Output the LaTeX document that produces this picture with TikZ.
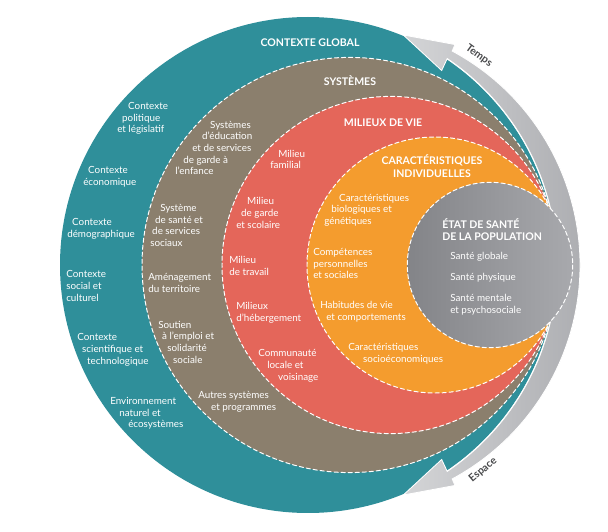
\documentclass[tikz,border=0pt]{standalone}
\usepackage{fontspec}
\setmainfont{Lato}
\usepackage{tikz}
\usetikzlibrary{calc}
\definecolor{ringteal}{HTML}{2F8F9A}
\definecolor{ringbrown}{HTML}{8B7F6D}
\definecolor{ringred}{HTML}{E4665A}
\definecolor{ringorange}{HTML}{F49C2E}
\definecolor{popdark}{HTML}{838488}
\definecolor{poplight}{HTML}{A8A9AD}
\definecolor{bandlight}{HTML}{D4D5D7}
\definecolor{banddark}{HTML}{A6A7AB}
\definecolor{arrowtext}{HTML}{48494B}

\begin{document}
\begin{tikzpicture}[x=0.025cm, y=-0.025cm, line cap=round,
  ringline/.style={draw=white, line width=0.7pt, dash pattern=on 3pt off 2pt},
  heading/.style={text=white, font=\fontsize{7.5}{8.8}\selectfont\bfseries, align=center, inner sep=0pt},
  lbl/.style={text=white, font=\fontsize{7}{8.3}\selectfont, align=left, anchor=west, inner sep=0pt},
  arrowlbl/.style={text=arrowtext, font=\fontsize{7.5}{9}\selectfont\bfseries, inner sep=0pt}]
\useasboundingbox (0,0) rectangle (608,532);
\coordinate (C) at (308,265);
\coordinate (Cband) at (337,265);
\fill[ringteal] (C) circle (248);
\shadedraw[left color=bandlight, right color=banddark, draw=white, line width=0.6pt, line join=miter]
  ($(C)+(-67.5:249)$) -- ($(C)+(-56.3:265)$) -- ($(Cband)+(-61.7:243)$)
  arc[start angle=-61.7, end angle=61.7, radius=243]
  -- ($(C)+(56.3:265)$) -- ($(C)+(67.5:249)$) -- ($(C)+(55.5:236)$) -- ($(C)+(56:249)$)
  arc[start angle=56, end angle=-56, radius=249]
  -- ($(C)+(-55.5:236)$) -- cycle;
\fill[ringbrown] (349.6,265) circle (207.6);
\draw[ringline] (349.6,265) circle (207.6);
\fill[ringred] (390.6,265) circle (168.6);
\draw[ringline] (390.6,265) circle (168.6);
\fill[ringorange] (435,265) circle (128);
\draw[ringline] (435,265) circle (128);
\shade[left color=popdark, right color=poplight] (490,265) circle (82.7);
\draw[ringline] (490,265) circle (82.7);

\node[heading] (global) at (310,43) {CONTEXTE GLOBAL};
\node[heading] (systemes) at (350,81) {SYSTÈMES};
\node[heading] (milieux) at (383,123) {MILIEUX DE VIE};
\node[heading] (indiv) at (432,166) {CARACTÉRISTIQUES\\INDIVIDUELLES};
\node[heading, align=left, anchor=west] (etat) at (442,229.5) {ÉTAT DE SANTÉ\\DE LA POPULATION};

\node[lbl] (ctxpol) at (117,118.5) {\hspace*{7.8pt}Contexte\\\hspace*{3.5pt}politique\\et législatif};
\node[lbl] (ctxeco) at (83,176.5) {\hspace*{3.5pt}Contexte\\économique};
\node[lbl] (ctxdemo) at (67,229) {\hspace*{3.5pt}Contexte\\démographique};
\node[lbl] (ctxsoc) at (66,286) {Contexte\\social et\\culturel};
\node[lbl] (ctxsci) at (77,350) {Contexte\\\hspace*{3.5pt}scientifique et\\\hspace*{7pt}technologique};
\node[lbl] (ctxenv) at (110,413.5) {Environnement\\\hspace*{6.4pt}naturel et\\\hspace*{12.8pt}écosystèmes};

\node[lbl] (syseduc) at (175,148) {\hspace*{24.8pt}Systèmes\\\hspace*{19.1pt}d'éducation\\\hspace*{12.1pt}et de services\\\hspace*{5.7pt}de garde à\\l'enfance};
\node[lbl] (syssante) at (150,225.5) {\hspace*{7.1pt}Système\\\hspace*{3.5pt}de santé et\\\hspace*{1.4pt}de services\\sociaux};
\node[lbl] (sysamen) at (148,283) {Aménagement\\du territoire};
\node[lbl] (sysemploi) at (158,342) {Soutien\\\hspace*{2.8pt}à l'emploi et\\\hspace*{6.4pt}solidarité\\\hspace*{10.6pt}sociale};
\node[lbl] (sysautres) at (198,401.5) {Autres systèmes\\\hspace*{9.2pt}et programmes};

\node[lbl] (milfam) at (270,159.5) {\hspace*{5.7pt}Milieu\\familial};
\node[lbl] (milgarde) at (236,213) {\hspace*{7.8pt}Milieu\\\hspace*{3.5pt}de garde\\et scolaire};
\node[lbl] (miltrav) at (229,266) {Milieu\\de travail};
\node[lbl] (milheb) at (236,313) {Milieux\\d'hébergement};
\node[lbl] (milcomm) at (258,366) {Communauté\\\hspace*{6.4pt}locale et\\\hspace*{14.2pt}voisinage};

\node[lbl] (carbio) at (324,210) {\hspace*{10.6pt}Caractéristiques\\\hspace*{5pt}biologiques et\\génétiques};
\node[lbl] (carcomp) at (313,263.5) {Compétences\\personnelles\\et sociales};
\node[lbl] (carhab) at (320,312) {Habitudes de vie\\\hspace*{4.3pt}et comportements};
\node[lbl] (carsocio) at (348,354) {Caractéristiques\\\hspace*{10.6pt}socioéconomiques};

\node[lbl] (santeglob) at (450,257) {Santé globale};
\node[lbl] (santephys) at (450,278) {Santé physique};
\node[lbl] (santement) at (450,305) {Santé mentale\\et psychosociale};

\node[arrowlbl, rotate=-36] (temps) at (479,56) {Temps};
\node[arrowlbl, rotate=40] (espace) at (483,470) {Espace};
\end{tikzpicture}
\end{document}
